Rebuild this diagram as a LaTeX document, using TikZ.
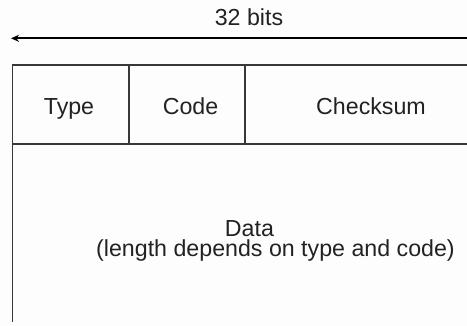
\documentclass[tikz,border=0pt]{standalone}
\usepackage{fontspec}
\setmainfont{Liberation Sans}
\usetikzlibrary{arrows.meta}
\definecolor{ink}{HTML}{222222}
\definecolor{paper}{HTML}{FDFDFD}
\begin{document}
\begin{tikzpicture}[x=1pt,y=-1pt,
  label text/.style={anchor=base,inner sep=0pt,text=ink,font=\fontsize{23.2}{23.2}\selectfont},
  rule/.style={draw=ink!90,line width=1.1pt},
  width arrow/.style={draw=black,line width=2pt,-{Stealth[length=8pt,width=7pt]}}]
  \fill[paper] (0,0) rectangle (467,326);
  \useasboundingbox (0,0) rectangle (467,326);

  % word width marker
  \node[label text] (bits) at (249,26) {32 bits};
  \coordinate (arrR) at (467,38.3);
  \coordinate (arrL) at (11,38.3);
  \draw[width arrow] (arrR) -- (arrL);

  % header frame (right side runs off the page)
  \coordinate (tl) at (12.7,65);
  \coordinate (tr) at (467,65);
  \coordinate (ml) at (12.7,144);
  \coordinate (mr) at (467,144);
  \coordinate (bl) at (12.7,322);
  \coordinate (d1t) at (129,65);
  \coordinate (d1b) at (129,144);
  \coordinate (d2t) at (245,65);
  \coordinate (d2b) at (245,144);
  \draw[rule] (tr) -- (tl) -- (bl);
  \draw[rule] (ml) -- (mr);
  \draw[rule] (d1t) -- (d1b);
  \draw[rule] (d2t) -- (d2b);

  % field names
  \node[label text] (type) at (69,115) {Type};
  \node[label text] (code) at (190.5,115) {Code};
  \node[label text] (csum) at (371,115) {Checksum};
  \node[label text] (data) at (249.5,237) {Data};
  \node[label text] (dlen) at (275.5,257) {(length depends on type and code)};
\end{tikzpicture}
\end{document}
